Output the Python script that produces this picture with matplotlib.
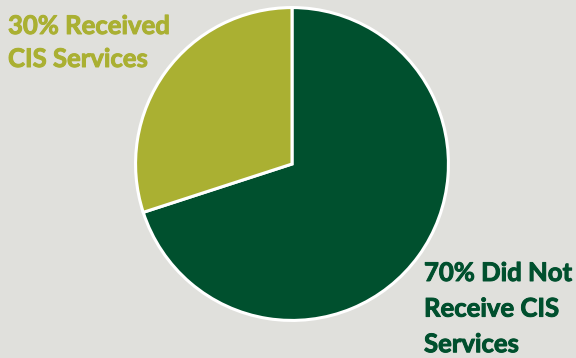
import matplotlib
matplotlib.use("Agg")
import matplotlib.pyplot as plt
import matplotlib.patheffects as pe

# share of students, CIS services
labels = ["70% Did Not\nReceive CIS\nServices", "30% Received\nCIS Services"]
shares = [70, 30]
colors = ["#00502e", "#aab032"]

BG = "#e0e0dc"

fig = plt.figure(figsize=(5.76, 3.58), dpi=100, facecolor=BG)
ax = fig.add_axes([134 / 576, 36 / 358, 316 / 576, 316 / 358])
ax.set_facecolor(BG)

ax.pie(shares, colors=colors, startangle=90, counterclock=False,
       wedgeprops=dict(edgecolor="white", linewidth=2.2))
ax.set_xlim(-1.01, 1.01)
ax.set_ylim(-1.01, 1.01)
ax.set_aspect("equal")

# labels sit outside the pie, in the figure corners
def corner_label(x, y, text, color, spacing):
    fig.text(x / 576, 1 - y / 358, text, ha="left", va="top",
             fontsize=18.5, fontweight="bold", color=color,
             family="Lato", linespacing=spacing,
             path_effects=[pe.withStroke(linewidth=0.7, foreground=color)])

corner_label(8, 14, labels[1], colors[1], 1.45)
corner_label(424, 261, labels[0], colors[0], 1.58)

fig.savefig("out.png", dpi=100, facecolor=BG)
